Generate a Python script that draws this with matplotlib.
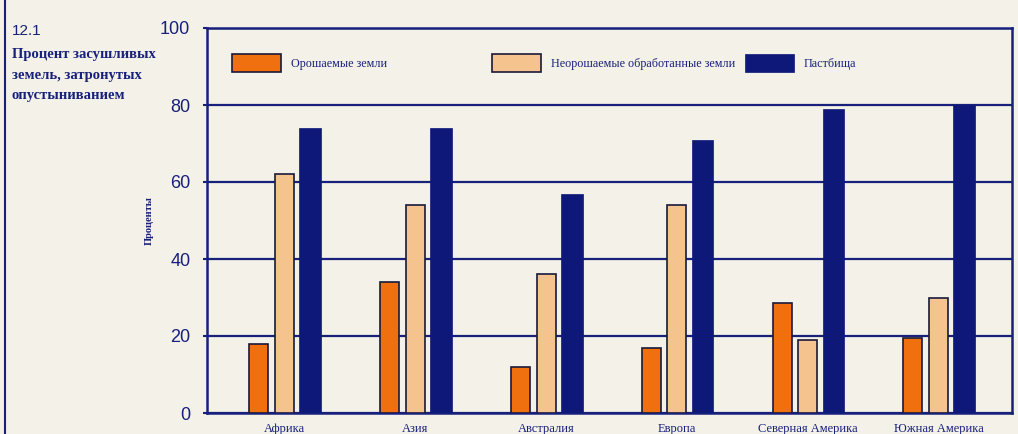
import matplotlib
matplotlib.use("Agg")
import matplotlib.pyplot as plt
import numpy as np
from matplotlib.lines import Line2D

categories = ["Африка", "Азия", "Австралия", "Европа", "Северная Америка", "Южная Америка"]
series_names = ["Орошаемые земли", "Неорошаемые обработанные земли", "Пастбища"]
irrigated = [18, 34, 12, 17, 28.5, 19.5]
rainfed = [62, 54, 36, 54, 19, 30]
pasture = [74, 74, 57, 71, 79, 80]
yticks = [0, 20, 40, 60, 80, 100]

paper = "#F4F1E8"
navy = "#17207A"
orange = "#F0700F"
peach = "#F5C48E"
darkbar = "#0E1878"
edge = "#1A1A3A"

serif = ["Liberation Serif", "DejaVu Serif"]
sans = ["Liberation Sans", "DejaVu Sans"]

fig = plt.figure(figsize=(10.18, 4.34), dpi=100, facecolor=paper)
ax = fig.add_axes([207/1018, 21/434, 805/1018, 385/434])
ax.set_facecolor(paper)

x = np.arange(len(categories))
off = 0.196
b1 = ax.bar(x - off, irrigated, width=0.145, color=orange, edgecolor=edge, linewidth=1.2, zorder=3)
b2 = ax.bar(x, rainfed, width=0.145, color=peach, edgecolor=edge, linewidth=1.2, zorder=3)
b3 = ax.bar(x + off, pasture, width=0.165, color=darkbar, edgecolor=darkbar, linewidth=0.5, zorder=3)

ax.set_xlim(-0.593, 5.562)
ax.set_ylim(0, 100)
ax.set_yticks(yticks)
ax.set_yticklabels([str(v) for v in yticks], family=sans, fontsize=13, color=navy)
ax.set_xticks(x)
ax.set_xticklabels(categories, family=serif, fontsize=9, color=navy)
ax.tick_params(axis="x", length=0, pad=7)
ax.tick_params(axis="y", length=3, width=1.5, color=navy, pad=9)

ax.yaxis.grid(True, color=navy, linewidth=1.6, zorder=1)
ax.set_axisbelow(True)
for s in ax.spines.values():
    s.set_color(navy)
    s.set_linewidth(1.8)

ax.set_ylabel("Проценты", family=serif, fontsize=7.5, fontweight="bold", color=navy)
ax.yaxis.set_label_coords(-0.066, 0.5)

# legend entries positioned individually
legend_pos = [(228/1018), (488/1018), (741/1018)]
for bars, name, lx in zip([b1, b2, b3], series_names, legend_pos):
    lg = fig.legend(handles=[bars], labels=[name], loc="center left",
                    bbox_to_anchor=(lx, 1 - 63/434), frameon=False,
                    handlelength=4.1, handleheight=1.9, handletextpad=0.8,
                    borderpad=0.3, borderaxespad=0,
                    prop={"family": serif, "size": 8.7})
    for t in lg.get_texts():
        t.set_color(navy)

# title block
fig.text(12/1018, 1 - 31/434, "12.1", family=sans, fontsize=11, color=navy, va="center", ha="left")
fig.text(12/1018, 1 - 48/434, "Процент засушливых\nземель, затронутых\nопустыниванием",
         family=serif, fontsize=10.5, fontweight="bold", color=navy, va="top", ha="left",
         linespacing=1.75)

fig.add_artist(Line2D([5/1018, 5/1018], [0, 1], color=navy, linewidth=1.5))

fig.savefig("out.png", dpi=100, facecolor=paper)
